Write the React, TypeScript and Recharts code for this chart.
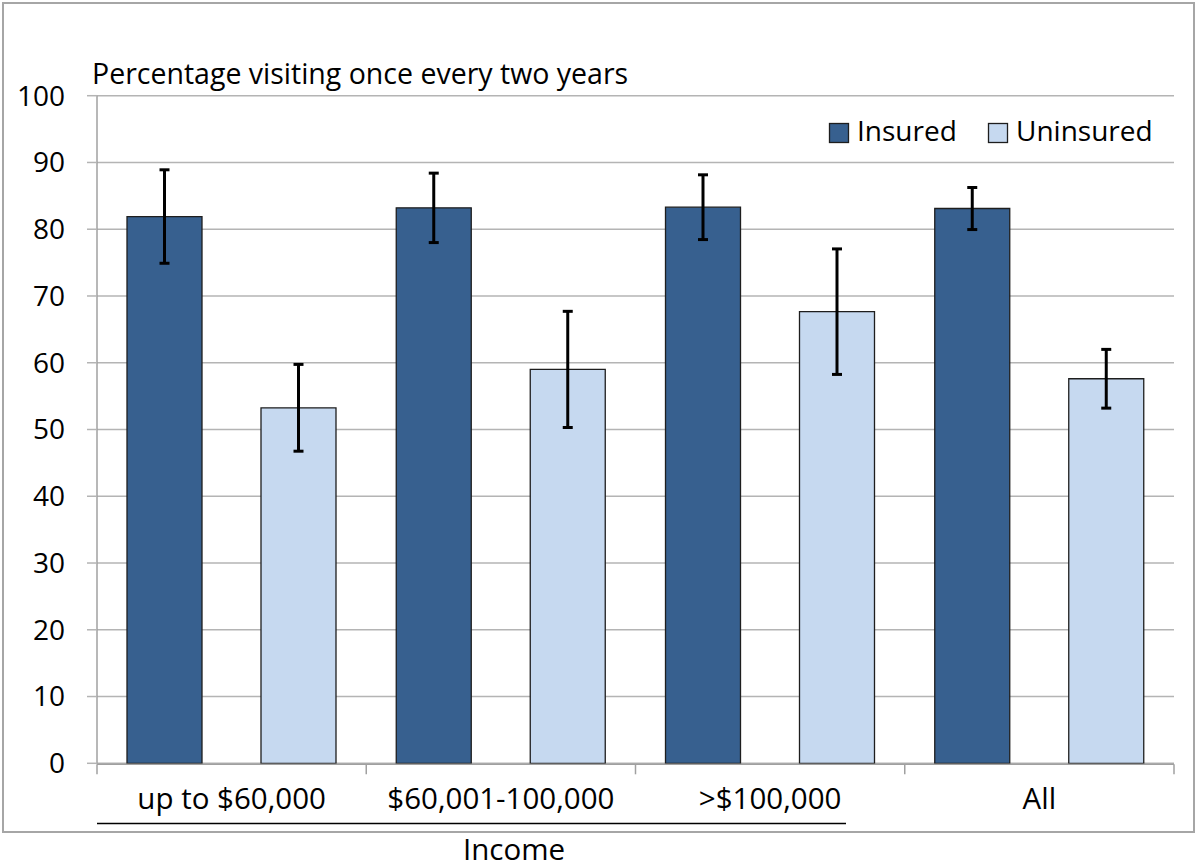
import React from 'react';
import { BarChart, Bar, XAxis, YAxis, CartesianGrid, ErrorBar } from 'recharts';

const categories = ['up to $60,000', '$60,001-100,000', '>$100,000', 'All'];
const insured = [81.9, 83.2, 83.3, 83.1];
const insuredErr = [7.0, 5.2, 4.85, 3.15];
const uninsured = [53.25, 59.0, 67.65, 57.6];
const uninsuredErr = [6.5, 8.7, 9.4, 4.4];
const yTicks = [0, 10, 20, 30, 40, 50, 60, 70, 80, 90, 100];
const edgeTicks = [0, 1, 2, 3, 4];
const seriesNames = ['Insured', 'Uninsured'];
const seriesColors = ['#37608F', '#C6D9F0'];
const titleText = 'Percentage visiting once every two years';
const groupLabel = 'Income';

const data = categories.map((c, i) => ({
  cat: c,
  slot: i + 0.5,
  insured: insured[i],
  insuredErr: insuredErr[i],
  uninsured: uninsured[i],
  uninsuredErr: uninsuredErr[i],
}));

const FONT = '"Open Sans", sans-serif';
const FS = 28;
const FS_X = 29.5;
const FS_TITLE = 28.5;
const GRID = '#b4b4b4';
const AXIS = '#a0a0a0';

const CatTick = (props: any) => {
  const { x, y, payload } = props;
  return (
    <text x={x} y={y} dy={46} textAnchor="middle" fontFamily={FONT} fontSize={FS_X} fill="#000">
      {payload.value}
    </text>
  );
};

const EmptyTick = () => <g />;

export default function App() {
  return (
    <div style={{ position: 'absolute', left: 0, top: 0, width: 1200, height: 868, background: '#fff' }}>
      <BarChart
        width={1200}
        height={868}
        data={data}
        margin={{ top: 95.7, right: 26, left: 0, bottom: 102.7 }}
        barSize={75}
        barGap={59}
      >
        <CartesianGrid vertical={false} stroke={GRID} strokeWidth={1.5} />
        <YAxis
          domain={[0, 100]}
          ticks={yTicks}
          interval={0}
          width={97}
          tickSize={10}
          tickMargin={22}
          axisLine={{ stroke: AXIS, strokeWidth: 1.5 }}
          tickLine={{ stroke: GRID, strokeWidth: 1.5 }}
          tick={{ fill: '#000', fontSize: FS, fontFamily: FONT }}
        />
        <XAxis
          xAxisId="edge"
          dataKey="slot"
          type="number"
          domain={[0, 4]}
          allowDataOverflow={true}
          ticks={edgeTicks}
          interval={0}
          height={1}
          tick={<EmptyTick />}
          tickSize={10}
          axisLine={{ stroke: AXIS, strokeWidth: 1.5 }}
          tickLine={{ stroke: AXIS, strokeWidth: 1.5 }}
        />
        <XAxis
          xAxisId="cat"
          dataKey="cat"
          interval={0}
          height={1}
          tickSize={0}
          tickMargin={0}
          axisLine={false}
          tickLine={false}
          tick={<CatTick />}
        />
        <Bar xAxisId="cat" dataKey="insured" name={seriesNames[0]} fill={seriesColors[0]} stroke="#1e1e1e" strokeWidth={1.3} isAnimationActive={false}>
          <ErrorBar dataKey="insuredErr" width={5} strokeWidth={3} stroke="#000" direction="y" />
        </Bar>
        <Bar xAxisId="cat" dataKey="uninsured" name={seriesNames[1]} fill={seriesColors[1]} stroke="#1e1e1e" strokeWidth={1.3} isAnimationActive={false}>
          <ErrorBar dataKey="uninsuredErr" width={5} strokeWidth={3} stroke="#000" direction="y" />
        </Bar>
      </BarChart>
      <svg width={1200} height={868} style={{ position: 'absolute', left: 0, top: 0, pointerEvents: 'none' }}>
        <rect x={3} y={3} width={1191} height={829} fill="none" stroke="#a6a6a6" strokeWidth={2} />
        <text x={92} y={84} fontFamily={FONT} fontSize={FS_TITLE} fill="#000">{titleText}</text>
        <rect x={829.5} y={123.5} width={19} height={19} fill={seriesColors[0]} stroke="#1e1e1e" strokeWidth={1.3} />
        <text x={857} y={141} fontFamily={FONT} fontSize={FS} fill="#000">{seriesNames[0]}</text>
        <rect x={988.5} y={123.5} width={19} height={19} fill={seriesColors[1]} stroke="#1e1e1e" strokeWidth={1.3} />
        <text x={1016} y={141} fontFamily={FONT} fontSize={FS} fill="#000">{seriesNames[1]}</text>
        <line x1={97} x2={846} y1={823.5} y2={823.5} stroke="#000" strokeWidth={1.5} />
        <text x={514} y={859.5} textAnchor="middle" fontFamily={FONT} fontSize={FS_X} fill="#000">{groupLabel}</text>
      </svg>
    </div>
  );
}
